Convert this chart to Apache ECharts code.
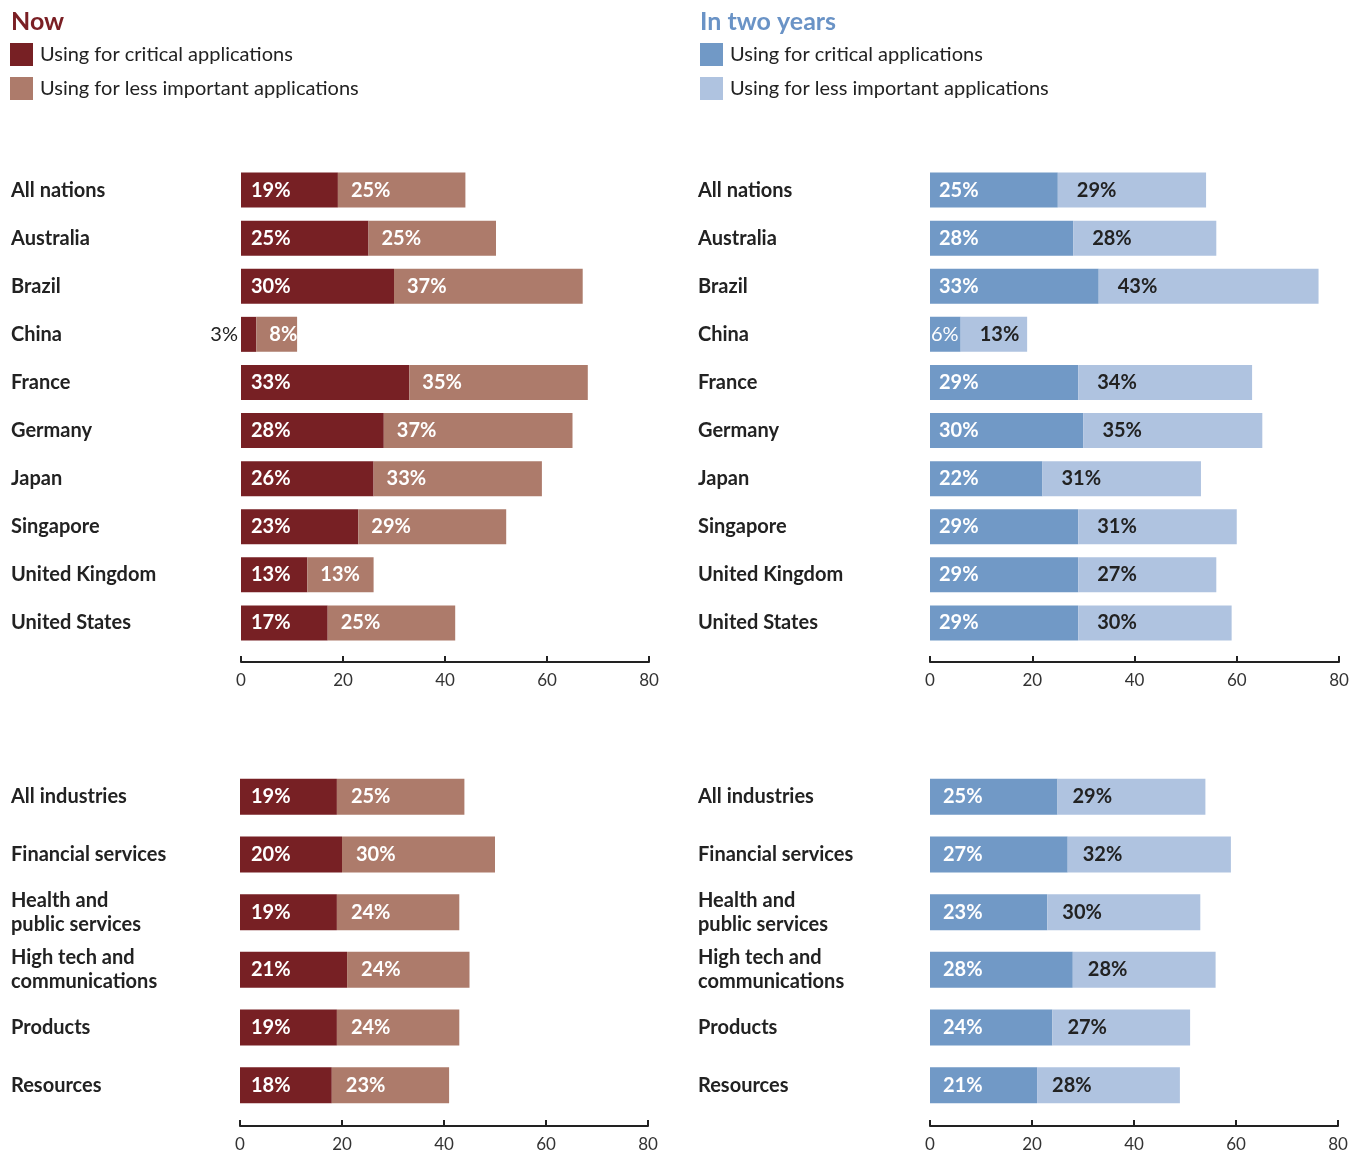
<!DOCTYPE html>
<html>
<head>
<meta charset="utf-8">
<script src="https://cdn.jsdelivr.net/npm/echarts@6/dist/echarts.min.js"></script>
<style>html,body{margin:0;padding:0;background:#fff}#c{width:1368px;height:1153px}</style>
</head>
<body>
<div id="c"></div>
<script>
const nations = ['All nations','Australia','Brazil','China','France','Germany','Japan','Singapore','United Kingdom','United States'];
const nowCritical = [19,25,30,3,33,28,26,23,13,17];
const nowLess = [25,25,37,8,35,37,33,29,13,25];
const futCritical = [25,28,33,6,29,30,22,29,29,29];
const futLess = [29,28,43,13,34,35,31,31,27,30];

const industries = ['All industries','Financial services','Health and\npublic services','High tech and\ncommunications','Products','Resources'];
const indNowCritical = [19,20,19,21,19,18];
const indNowLess = [25,30,24,24,24,23];
const indFutCritical = [25,27,23,28,24,21];
const indFutLess = [29,32,30,28,27,28];

const xTicks = [0,20,40,60,80];

const FONT = 'Lato';
const C = {nowCrit:'#772024', nowLess:'#ad7b6b', futCrit:'#7199c6', futLess:'#afc3e0'};
const NAME = {
  nowCrit:'now|Using for critical applications',
  nowLess:'now|Using for less important applications',
  futCrit:'fut|Using for critical applications',
  futLess:'fut|Using for less important applications'
};

const chart = echarts.init(document.getElementById('c'));

const grids = [
  {left:241, width:408, top:166, height:481},
  {left:930, width:409, top:166, height:481},
  {left:240, width:408, top:768, height:348},
  {left:930, width:408, top:768, height:348}
];
const offsets = [15,15,12,12];
const labelMargins = [230,232,229,232];
const cats = [nations, nations, industries, industries];

const xAxes = grids.map((g,i)=>({
  gridIndex:i, type:'value', min:0, max:80, interval:20, offset:offsets[i],
  axisLine:{show:true, lineStyle:{color:'#222', width:2}},
  axisTick:{show:true, inside:true, length:6, lineStyle:{color:'#222', width:2}},
  splitLine:{show:false},
  axisLabel:{color:'#333', fontSize:17, fontFamily:FONT, margin:10,
    customValues: xTicks, formatter: v=>String(v)}
}));
const yAxes = grids.map((g,i)=>({
  gridIndex:i, type:'category', data:cats[i], inverse:true,
  axisLine:{show:false}, axisTick:{show:false},
  axisLabel:{align:'left', margin:labelMargins[i], color:'#222', fontSize:20,
    fontWeight:'bold', fontFamily:FONT, lineHeight:24}
}));

function mk(values, name, color, idx, labelColor, dist, barW){
  return {
    type:'bar', name:name, xAxisIndex:idx, yAxisIndex:idx, stack:'s'+idx,
    barWidth:barW, itemStyle:{color:color},
    label:{show:true, position:'insideLeft', distance:dist, formatter:'{c}%',
      color:labelColor, fontSize:20, fontWeight:'bold', fontFamily:FONT},
    data: values.map(v => v < 5 ? {value:v, label:{position:'left', color:'#222', distance:3, fontWeight:'normal'}} : v)
  };
}

const series = [
  mk(nowCritical, NAME.nowCrit, C.nowCrit, 0, '#fff', 10, 35),
  mk(nowLess, NAME.nowLess, C.nowLess, 0, '#fff', 13, 35),
  mk(futCritical, NAME.futCrit, C.futCrit, 1, '#fff', 9, 35),
  mk(futLess, NAME.futLess, C.futLess, 1, '#222', 19, 35),
  mk(indNowCritical, NAME.nowCrit, C.nowCrit, 2, '#fff', 11, 36),
  mk(indNowLess, NAME.nowLess, C.nowLess, 2, '#fff', 14, 36),
  mk(indFutCritical, NAME.futCrit, C.futCrit, 3, '#fff', 13, 36),
  mk(indFutLess, NAME.futLess, C.futLess, 3, '#222', 15, 36)
];
series[2].data[3] = {value:futCritical[3], label:{distance:1, fontWeight:'normal'}};

const legendBase = {
  orient:'vertical', top:43, itemWidth:23, itemHeight:23, itemGap:11,
  icon:'rect', selectedMode:false, padding:0,
  textStyle:{color:'#222', fontSize:20, fontFamily:FONT, padding:[0,0,0,2]},
  formatter: n => n.split('|')[1]
};

chart.setOption({
  animation:false,
  title:[
    {text:'Now', left:6, top:4, textStyle:{color:'#7a1f24', fontSize:25, fontWeight:'bold', fontFamily:FONT}},
    {text:'In two years', left:695, top:4, textStyle:{color:'#6a93c6', fontSize:25, fontWeight:'bold', fontFamily:FONT}}
  ],
  legend:[
    Object.assign({}, legendBase, {left:10, data:[NAME.nowCrit, NAME.nowLess]}),
    Object.assign({}, legendBase, {left:700, data:[NAME.futCrit, NAME.futLess]})
  ],
  grid:grids,
  xAxis:xAxes,
  yAxis:yAxes,
  series:series
});
</script>
</body>
</html>
